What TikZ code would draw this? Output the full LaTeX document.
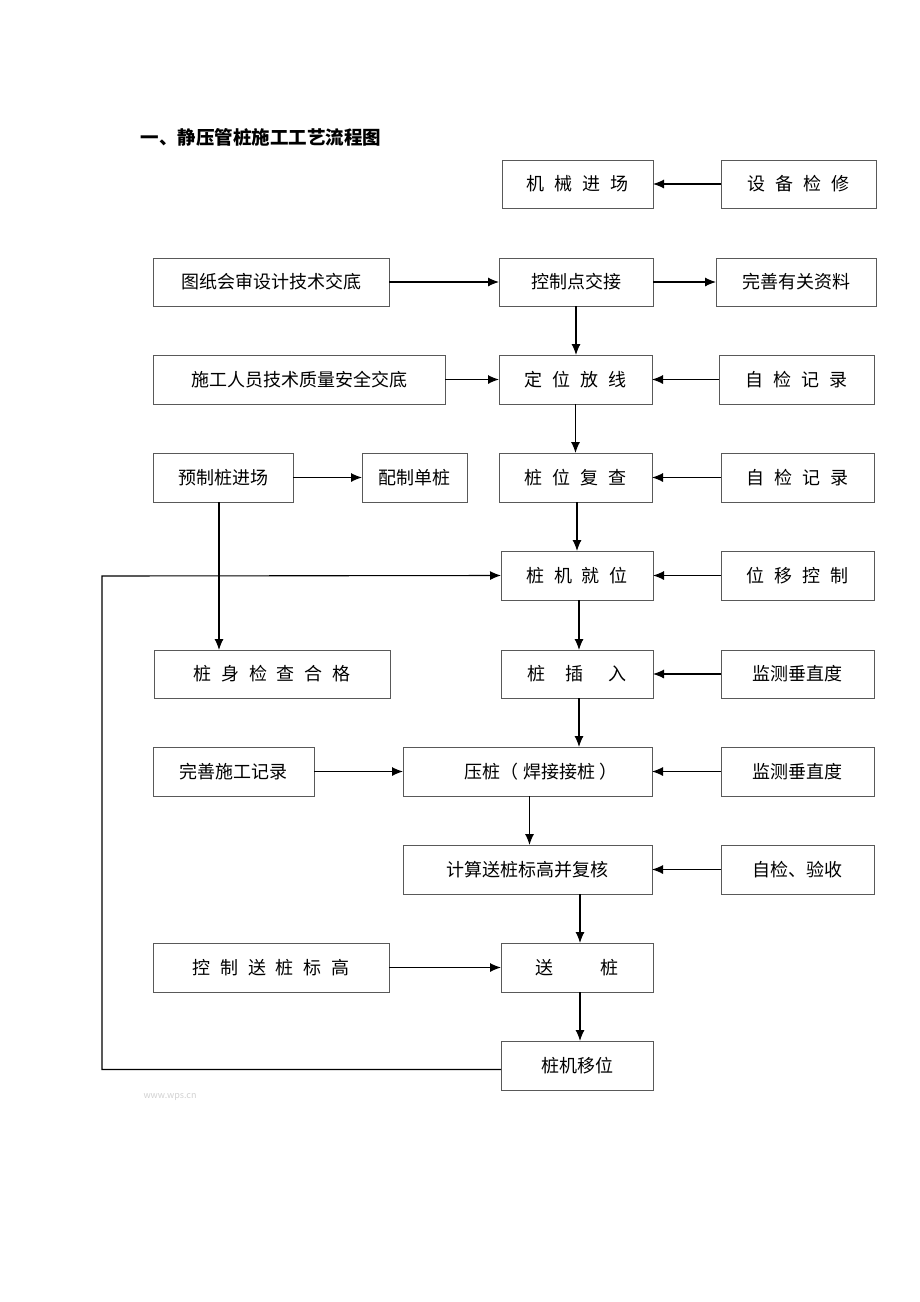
\documentclass[tikz,border=0pt]{standalone}
\usepackage{fontspec}
\setmainfont{Noto Sans CJK SC}
\usetikzlibrary{arrows.meta}
\newcommand\gp{\hspace{0.55em}}
\begin{document}
\begin{tikzpicture}[x=1pt,y=1pt,
  box/.style={draw=black!65,line width=0.9pt,rectangle,inner sep=0pt,outer sep=0pt,font=\fontsize{18}{20}\selectfont},
  arr/.style={draw=black,line width=1.1pt,-{Latex[length=11pt,width=9pt]}},
  ln/.style={draw=black,line width=1pt}]
\useasboundingbox (0,0) rectangle (920,-1302);
\newcommand\bx[6]{\node[box,minimum width=\fpeval{#4-#2}pt,minimum height=\fpeval{#5-#3}pt] (#1) at ({(#2+#4)/2},{-(#3+#5)/2}) {#6};}
\node[anchor=west,font=\fontsize{18.5}{20}\selectfont\bfseries] (title) at (137,-137) {一、静压管桩施工工艺流程图};
\bx{jx}{502}{160}{653}{208}{机\gp 械\gp 进\gp 场}
\bx{sb}{721}{160}{876}{208}{设\gp 备\gp 检\gp 修}
\bx{tz}{153}{258}{389}{306}{图纸会审设计技术交底}
\bx{kz}{499}{258}{653}{306}{控制点交接}
\bx{ws}{716}{258}{876}{306}{完善有关资料}
\bx{sg}{153}{355}{445}{404}{施工人员技术质量安全交底}
\bx{dw}{499}{355}{652}{404}{定\gp 位\gp 放\gp 线}
\bx{zj1}{719}{355}{874}{404}{自\gp 检\gp 记\gp 录}
\bx{yz}{153}{453}{293}{502}{预制桩进场}
\bx{pz}{362}{453}{467}{502}{配制单桩}
\bx{zw}{499}{453}{652}{502}{桩\gp 位\gp 复\gp 查}
\bx{zj2}{721}{453}{874}{502}{自\gp 检\gp 记\gp 录}
\bx{jw}{501}{551}{653}{600}{桩\gp 机\gp 就\gp 位}
\bx{wy}{721}{551}{874}{600}{位\gp 移\gp 控\gp 制}
\bx{ss}{154}{650}{390}{698}{桩\gp 身\gp 检\gp 查\gp 合\gp 格}
\bx{cr}{501}{650}{653}{698}{桩\hspace{1.1em}插\hspace{1.4em}入}
\bx{jc1}{721}{650}{874}{698}{监测垂直度}
\bx{wj}{153}{747}{314}{796}{完善施工记录}
\bx{yzh}{403}{747}{652}{796}{\hspace{1.5em}压桩（\ 焊接接桩\ ）}
\bx{jc2}{721}{747}{874}{796}{监测垂直度}
\bx{js}{403}{845}{652}{894}{计算送桩标高并复核}
\bx{ys}{721}{845}{874}{894}{自检、验收}
\bx{kb}{153}{943}{389}{992}{控\gp 制\gp 送\gp 桩\gp 标\gp 高}
\bx{sz}{501}{943}{653}{992}{送\hspace{2.6em}桩}
\bx{yw}{501}{1041}{653}{1090}{桩机移位}
\node[text=black!18,font=\fontsize{9}{10}\selectfont] (wm) at (170,-1097) {www.wps.cn};
% horizontal arrows
\draw[arr] (sb.west) -- (jx.east);
\draw[arr] (tz.east) -- (kz.west);
\draw[arr] (kz.east) -- (ws.west);
\draw[arr] (sg.east) -- (dw.west);
\draw[arr] (zj1.west) -- (dw.east);
\draw[arr] (yz.east) -- (pz.west);
\draw[arr] (zj2.west) -- (zw.east);
\draw[arr] (wy.west) -- (jw.east);
\draw[arr] (jc1.west) -- (cr.east);
\draw[arr] (wj.east) -- (yzh.west);
\draw[arr] (jc2.west) -- (yzh.east);
\draw[arr] (ys.west) -- (js.east);
\draw[arr] (kb.east) -- (sz.west);
% vertical arrows
\draw[arr] (kz.south) -- (kz.south |- dw.north);
\draw[arr] (dw.south) -- (dw.south |- zw.north);
\draw[arr] (jw.north |- zw.south) -- (jw.north);
\draw[arr] ([xshift=2pt]jw.south) -- ([xshift=2pt]cr.north);
\draw[arr] ([xshift=2pt]cr.south) -- ([xshift=2pt]cr.south |- yzh.north);
\draw[arr] ([xshift=2pt]yzh.south) -- ([xshift=2pt]yzh.south |- js.north);
\draw[arr] ([xshift=3pt]sz.north |- js.south) -- ([xshift=3pt]sz.north);
\draw[arr] ([xshift=3pt]sz.south) -- ([xshift=3pt]yw.north);
\draw[arr] ([xshift=-4pt]yz.south) -- ([xshift=-4pt]yz.south |- ss.north);
% loop back
\coordinate (L1) at (102,-576);
\draw[arr] ([yshift=-4pt]yw.west) -| (L1) -- (jw.west);
\end{tikzpicture}
\end{document}
